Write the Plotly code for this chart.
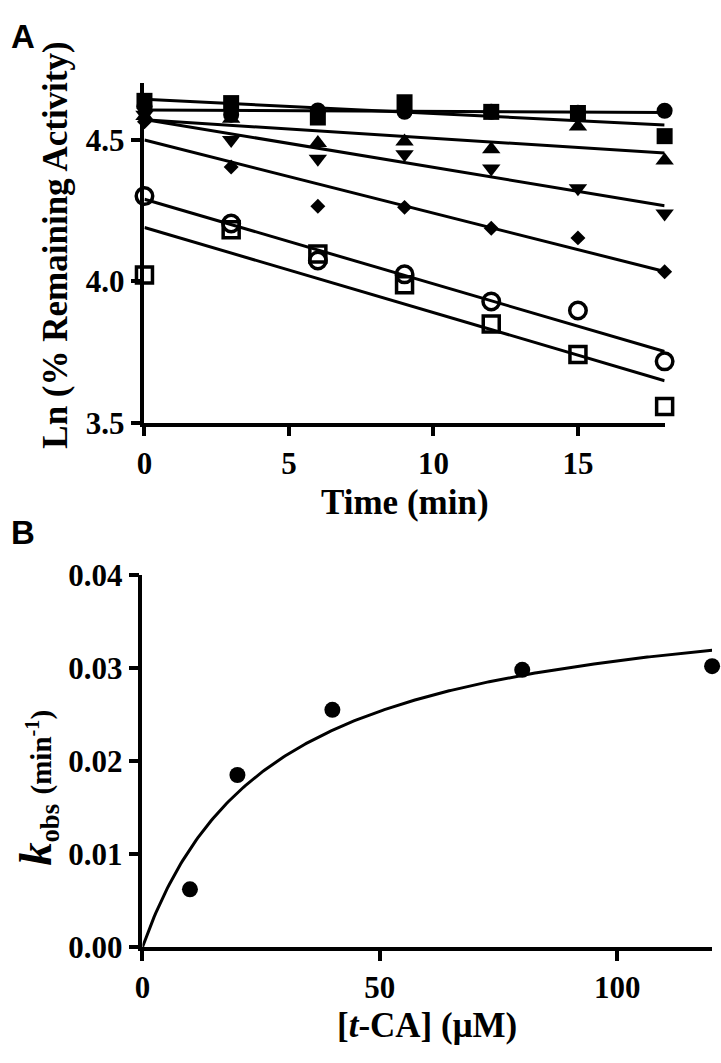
import numpy as np
import plotly.graph_objects as go

# ---------------- data ----------------
time_min = [0, 3, 6, 9, 12, 15, 18]
ln_filled_circle = [4.620, 4.590, 4.605, 4.600, 4.600, 4.597, 4.604]
ln_filled_square = [4.639, 4.631, 4.580, 4.634, 4.600, 4.596, 4.514]
ln_triangle_up = [4.585, 4.576, 4.490, 4.495, 4.468, 4.548, 4.428]
ln_triangle_down = [4.590, 4.500, 4.434, 4.450, 4.400, 4.330, 4.240]
ln_diamond = [4.565, 4.405, 4.266, 4.262, 4.188, 4.154, 4.034]
ln_open_circle = [4.302, 4.205, 4.074, 4.025, 3.929, 3.897, 3.717]
ln_open_square = [4.023, 4.183, 4.097, 3.988, 3.849, 3.741, 3.557]

tca_uM = [10, 20, 40, 80, 120]
kobs_per_min = [0.0062, 0.0185, 0.0255, 0.0298, 0.0302]

a_xticks = [0, 5, 10, 15]
a_yticks = [3.5, 4.0, 4.5]
b_xticks = [0, 50, 100]
b_yticks = [0.00, 0.01, 0.02, 0.03, 0.04]

# ---------------- layout helpers ----------------
W, H = 721, 1063


def fx(p):
    return p / W


def fy(p):
    return 1 - p / H


SERIF = "Liberation Serif, Times New Roman, serif"
SANS = "Liberation Sans, Arial, sans-serif"

fig = go.Figure()

series = [
    (ln_filled_circle, "circle", 16, False),
    (ln_filled_square, "square", 16, False),
    (ln_triangle_up, "triangle-up", 16, False),
    (ln_triangle_down, "triangle-down", 16, False),
    (ln_diamond, "diamond", 11.5, False),
    (ln_open_circle, "circle-open", 16.5, True),
    (ln_open_square, "square-open", 16, True),
]

t_arr = np.array(time_min, dtype=float)
x_line = np.array([min(time_min), max(time_min)], dtype=float)
for vals, sym, size, is_open in series:
    slope, intercept = np.polyfit(t_arr, np.array(vals), 1)
    fig.add_trace(go.Scatter(
        x=x_line, y=slope * x_line + intercept, mode="lines",
        line=dict(color="black", width=3), xaxis="x", yaxis="y",
        showlegend=False, hoverinfo="skip", cliponaxis=False))
for vals, sym, size, is_open in series:
    marker = dict(symbol=sym, size=size, color="black")
    if is_open:
        marker["line"] = dict(color="black", width=3.5)
    else:
        marker["line"] = dict(width=0)
    fig.add_trace(go.Scatter(
        x=time_min, y=vals, mode="markers", marker=marker,
        xaxis="x", yaxis="y", showlegend=False, cliponaxis=False))

# Michaelis-Menten fit of panel B (least squares, grid over Km)
S = np.array(tca_uM, dtype=float)
k = np.array(kobs_per_min, dtype=float)
best = None
for Km in np.arange(1.0, 200.0, 0.05):
    f = S / (Km + S)
    Vm = np.sum(k * f) / np.sum(f * f)
    sse = np.sum((k - Vm * f) ** 2)
    if best is None or sse < best[0]:
        best = (sse, Km, Vm)
_, Km_fit, Vm_fit = best
s_curve = np.linspace(0, max(tca_uM), 300)
fig.add_trace(go.Scatter(
    x=s_curve, y=Vm_fit * s_curve / (Km_fit + s_curve), mode="lines",
    line=dict(color="black", width=3), xaxis="x2", yaxis="y2",
    showlegend=False, hoverinfo="skip", cliponaxis=False))
fig.add_trace(go.Scatter(
    x=tca_uM, y=kobs_per_min, mode="markers",
    marker=dict(symbol="circle", size=16, color="black"),
    xaxis="x2", yaxis="y2", showlegend=False, cliponaxis=False))

tickfont = dict(family=SERIF, size=31, color="black", weight="bold")
axis_common = dict(
    showline=True, linecolor="black", linewidth=3.5, mirror=False,
    ticks="outside", ticklen=10, tickwidth=3.5, tickcolor="black",
    showgrid=False, zeroline=False, tickfont=tickfont,
)

fig.update_layout(
    width=W, height=H,
    margin=dict(l=0, r=0, t=0, b=0),
    paper_bgcolor="white", plot_bgcolor="white",
    xaxis=dict(domain=[fx(138), fx(664)], range=[0, 18], anchor="y",
               tickvals=a_xticks, ticklabelstandoff=0, **axis_common),
    yaxis=dict(domain=[fy(419.5), fy(68)], range=[3.5, 4.703], anchor="x",
               tickvals=a_yticks, tickformat=".1f", **axis_common),
    xaxis2=dict(domain=[fx(136), fx(712)], range=[0, 120], anchor="y2",
                tickvals=b_xticks, ticklabelstandoff=0, **axis_common),
    yaxis2=dict(domain=[fy(961.7), fy(577)], range=[0, 0.04], anchor="x2",
                tickvals=b_yticks, tickformat=".2f", **axis_common),
    showlegend=False,
)

title_font = dict(family=SERIF, size=35, color="black", weight="bold")
annotations = [
    dict(text="A", x=fx(15), y=fy(20), font=dict(family=SANS, size=33, color="black", weight="bold")),
    dict(text="B", x=fx(15), y=fy(533), font=dict(family=SANS, size=33, color="black", weight="bold")),
    dict(text="Time (min)", x=fx(401), y=fy(502), font=title_font),
    dict(text="Ln (% Remaining Activity)", x=fx(48), y=fy(236), textangle=-90, font=title_font),
    dict(text="[<i>t</i>-CA] (μM)", x=fx(424), y=fy(1043), font=title_font),
    dict(text="<span style='font-size:46px'><i>k</i></span><sub>obs</sub> "
              "<span style='font-size:29px'>(min<sup>-1</sup>)</span>",
         x=fx(30), y=fy(797), textangle=-90, font=dict(family=SERIF, size=38, color="black", weight="bold")),
]
for a in annotations:
    a.update(xref="paper", yref="paper", showarrow=False, xanchor="center", yanchor="middle")
fig.update_layout(annotations=annotations)

fig.write_html(
    "out.html",
    config={"displayModeBar": False},
    post_script="document.body.style.margin='0px';document.body.style.overflow='hidden';",
)
